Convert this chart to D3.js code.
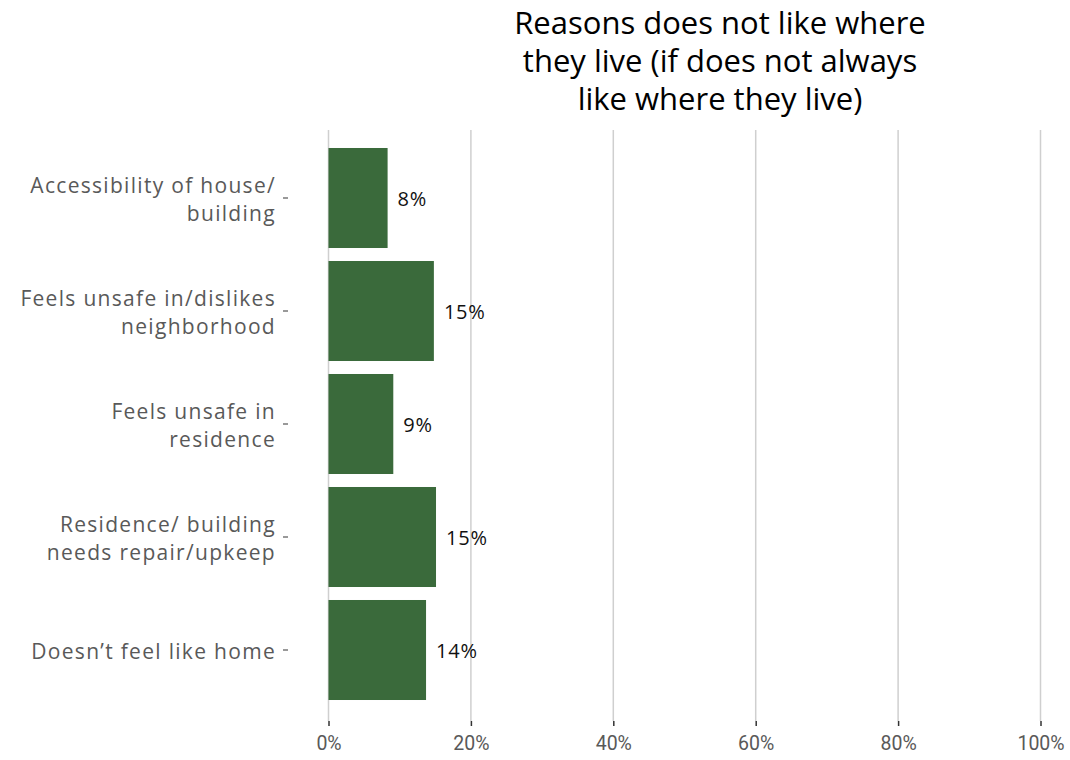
<!DOCTYPE html>
<html><head><meta charset="utf-8">
<script src="https://cdn.jsdelivr.net/npm/d3@7"></script>
<style>body{margin:0;background:#fff;} svg{display:block;}</style>
</head><body>
<svg id="c" width="1070" height="760"></svg>
<script>
const categories = [
  ["Accessibility of house/", "building"],
  ["Feels unsafe in/dislikes", "neighborhood"],
  ["Feels unsafe in", "residence"],
  ["Residence/ building", "needs repair/upkeep"],
  ["Doesn\u2019t feel like home"]
];
const values = [0.083, 0.148, 0.091, 0.151, 0.137];
const valueLabels = ["8%", "15%", "9%", "15%", "14%"];
const xTicks = [0, 0.2, 0.4, 0.6, 0.8, 1.0];
const titleLines = ["Reasons does not like where", "they live (if does not always", "like where they live)"];

const svg = d3.select("#c");
const x = d3.scaleLinear().domain([0, 1]).range([328.5, 1040.5]);
const y = d3.scaleBand().domain(d3.range(categories.length)).range([141.5, 706.5]).paddingInner(0.115).paddingOuter(0.0575);

const font = "'Open Sans', 'Noto Sans', sans-serif";

// title
svg.append("g").selectAll("text").data(titleLines).join("text")
  .attr("x", 720).attr("y", (d, i) => 34 + i * 38)
  .attr("text-anchor", "middle")
  .attr("font-family", font).attr("font-size", 31).attr("fill", "#000")
  .text(d => d);

// gridlines
svg.append("g").selectAll("line").data(xTicks).join("line")
  .attr("x1", d => x(d)).attr("x2", d => x(d))
  .attr("y1", 130).attr("y2", 721)
  .attr("stroke", "#cfcfcf").attr("stroke-width", 1.5);

// x axis
const xAxis = svg.append("g").attr("transform", "translate(0,721)")
  .call(d3.axisBottom(x).tickValues(xTicks).tickFormat(d3.format(".0%")).tickSize(5).tickPadding(10));
xAxis.select(".domain").remove();
xAxis.selectAll(".tick line").attr("stroke", "#333").attr("stroke-width", 1.5);
xAxis.selectAll(".tick text").attr("font-family", "'Roboto', sans-serif")
  .attr("font-size", 19.5).attr("fill", "#595959");

// bars
svg.append("g").selectAll("rect").data(values).join("rect")
  .attr("x", x(0)).attr("y", (d, i) => y(i))
  .attr("width", d => x(d) - x(0)).attr("height", y.bandwidth())
  .attr("fill", "#3a6a3b");

// value labels
svg.append("g").selectAll("text").data(values).join("text")
  .attr("x", d => x(d) + 10).attr("y", (d, i) => y(i) + y.bandwidth() / 2 + 8)
  .attr("font-family", font).attr("font-size", 20).attr("letter-spacing", 0.8).attr("fill", "#111")
  .text((d, i) => valueLabels[i]);

// y axis
const yAxis = svg.append("g").attr("transform", "translate(288,0)")
  .call(d3.axisLeft(y).tickSize(5).tickFormat(""));
yAxis.select(".domain").remove();
yAxis.selectAll(".tick line").attr("stroke", "#555").attr("stroke-width", 1.2);

const labels = svg.append("g").selectAll("text").data(categories).join("text")
  .attr("text-anchor", "end")
  .attr("font-family", font).attr("font-size", 21).attr("letter-spacing", 1.3).attr("fill", "#595959");
labels.each(function(lines, i) {
  const t = d3.select(this);
  const cy = y(i) + y.bandwidth() / 2;
  const lh = 28;
  const y0 = cy - (lines.length - 1) * lh / 2 + 9;
  lines.forEach((ln, j) => {
    t.append("tspan").attr("x", 276).attr("y", y0 + j * lh).text(ln);
  });
});
</script>
</body></html>
